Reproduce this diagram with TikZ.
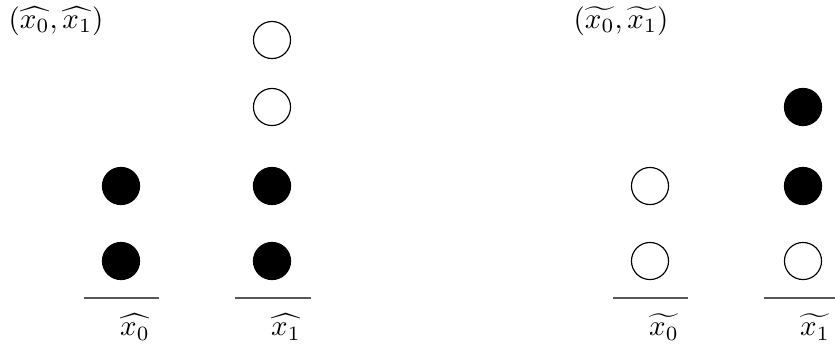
\documentclass[tikz,border=0pt]{standalone}
\usepackage{amsmath}
\begin{document}
\begin{tikzpicture}[x=0.345pt,y=-0.345pt,
  dot/.style={circle,draw=black,line width=0.4pt,minimum size=12.8pt,inner sep=0pt},
  full/.style={dot,fill=black},
  empty/.style={dot,fill=white},
  base/.style={draw=black!65,line width=0.55pt},
  lab/.style={inner sep=0pt,anchor=center}]
\useasboundingbox (0,0) rectangle (835,349);
% left group
\node[lab] (tl) at (56,21) {$(\widehat{x_0},\widehat{x_1})$};
\node[full] (a1) at (121,186) {};
\node[full] (a0) at (121,261) {};
\node[empty] (b3) at (272,40) {};
\node[empty] (b2) at (272,107) {};
\node[full] (b1) at (272,186) {};
\node[full] (b0) at (272,261) {};
\draw[base] (84,298) -- (159,298);
\draw[base] (235,298) -- (311,298);
\node[lab] (la) at (135,327) {$\widehat{x_0}$};
\node[lab] (lb) at (286,327) {$\widehat{x_1}$};
% right group
\node[lab] (tr) at (621,21) {$(\widetilde{x_0},\widetilde{x_1})$};
\node[empty] (c1) at (650,186) {};
\node[empty] (c0) at (650,261) {};
\node[full] (d2) at (803,107) {};
\node[full] (d1) at (803,186) {};
\node[empty] (d0) at (803,261) {};
\draw[base] (613,298) -- (688,298);
\draw[base] (764,298) -- (835,298);
\node[lab] (lc) at (664,327) {$\widetilde{x_0}$};
\node[lab] (ld) at (815,327) {$\widetilde{x_1}$};
\end{tikzpicture}
\end{document}
